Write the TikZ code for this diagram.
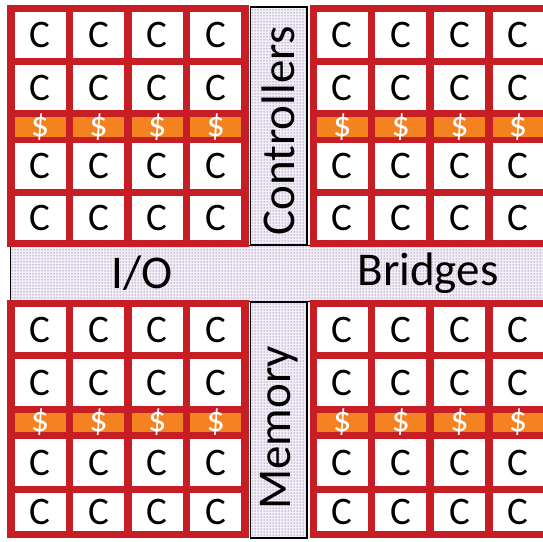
\documentclass[tikz,border=0pt]{standalone}
\usepackage{fontspec}
\setmainfont{Carlito}
\usetikzlibrary{patterns}
\definecolor{cpured}{HTML}{C71D25}
\definecolor{cacheorange}{HTML}{F58220}
\definecolor{bandbg}{HTML}{F2EEF7}
\definecolor{banddot}{HTML}{4A2A70}
\tikzset{
  core/.style={rectangle, fill=white, inner sep=0pt, minimum width=51pt, font=\fontsize{39}{39}\selectfont},
  cache/.style={core, fill=cacheorange},
  dollar/.style={text=white, inner sep=0pt, font=\fontsize{36}{36}\selectfont},
  band/.style={draw=black, line width=1.4pt, preaction={fill=bandbg}, pattern=dots, pattern color=banddot, inner sep=0pt},
  bandtext/.style={font=\fontsize{47}{47}\selectfont},
}

\begin{document}
\begin{tikzpicture}[x=1pt, y=-1pt]
    \useasboundingbox (0,0) rectangle (543,541);
    \clip (0,0) rectangle (543,541);
    % shared bands
    \node[band, minimum width=560pt, minimum height=56pt, anchor=north west] (io) at (9.5,245) {};
    \node[bandtext] (iolabel) at (142,273) {I/O};
    \node[bandtext] (bridges) at (428,273) {Bridges};
    \node[band, bandtext, rotate=90, minimum width=238pt, minimum height=56.5pt] (ctrl) at (278.75,126) {Controllers\hspace*{10pt}};
    \node[band, bandtext, rotate=90, minimum width=236pt, minimum height=56.5pt] (mem) at (278.75,420) {Memory\hspace*{16pt}};
    % red tiles
    \fill[cpured] (7,5) rectangle (249.25,247);
    \fill[cpured] (309.5,5) rectangle (560,247);
    \fill[cpured] (7,300) rectangle (249.25,538);
    \fill[cpured] (309.5,300) rectangle (560,538);
    % upper cores and caches
    \foreach \blk/\xa in {tl/40, tr/342.25}
      \foreach \c in {1,...,4} {
        \foreach \r/\y/\h in {1/35/46, 2/87.5/45, 4/166/46, 5/218/44}
          \node[core, minimum height=\h] (\blk-\r-\c) at ({\xa+(\c-1)*58.6}, \y) {C};
        \node[cache, minimum height=20, label={[dollar]center:\$}] (\blk-3-\c) at ({\xa+(\c-1)*58.6}, 127) {};
      }
    % lower cores and caches
    \foreach \blk/\xa in {bl/40, br/342.25}
      \foreach \c in {1,...,4} {
        \foreach \r/\y/\h in {1/329.5/45, 2/382.5/47, 4/462.5/47, 5/512/38}
          \node[core, minimum height=\h] (\blk-\r-\c) at ({\xa+(\c-1)*58.6}, \y) {C};
        \node[cache, minimum height=19, label={[dollar]center:\$}] (\blk-3-\c) at ({\xa+(\c-1)*58.6}, 422.5) {};
      }
\end{tikzpicture}
\end{document}
